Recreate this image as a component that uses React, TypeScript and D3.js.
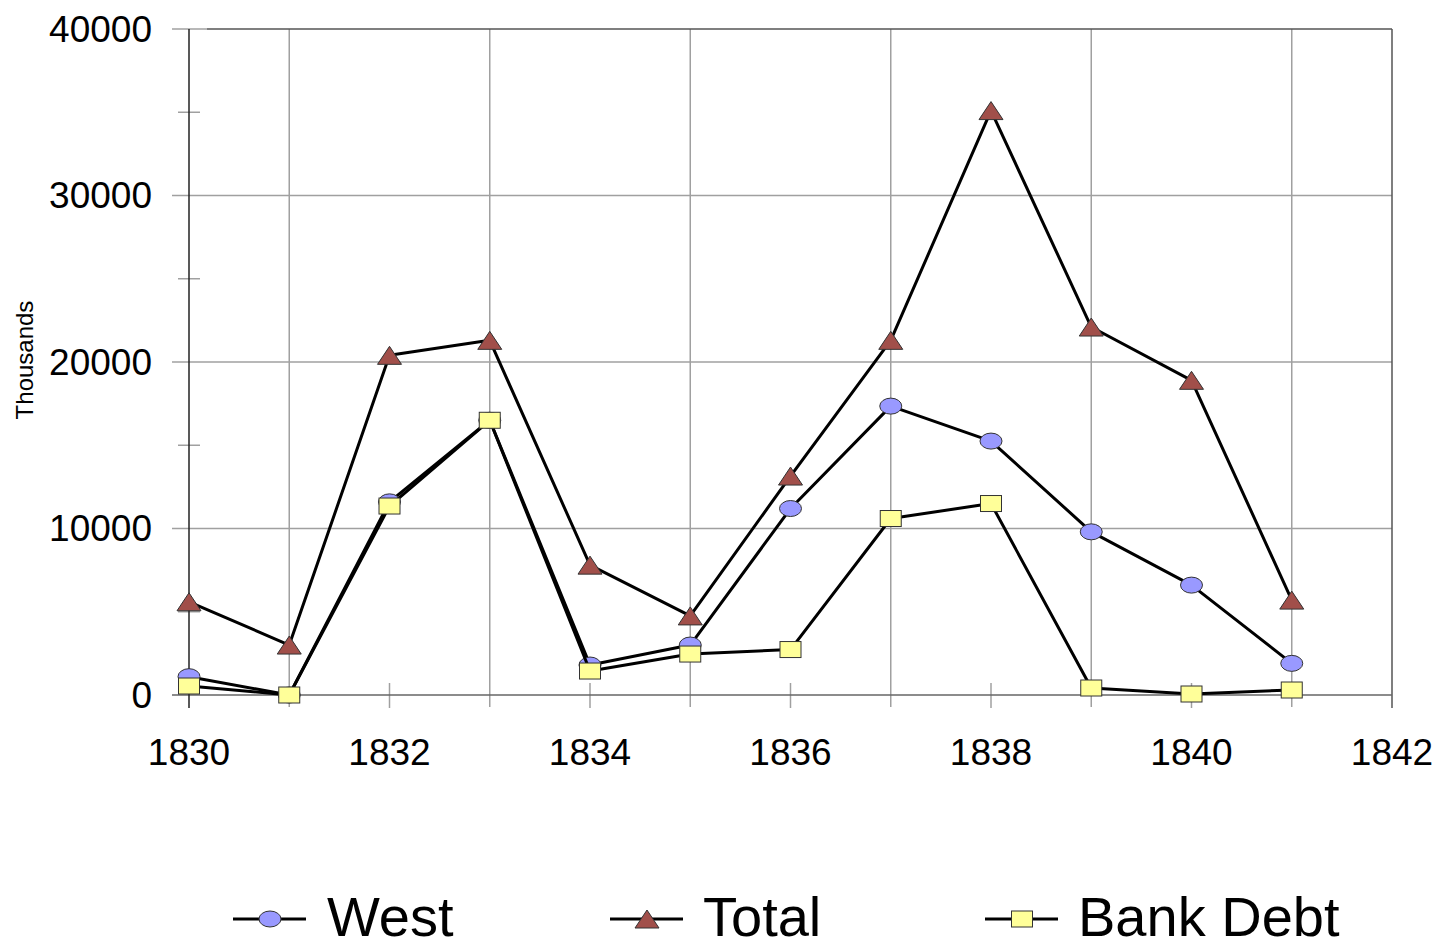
import React from "react";
import * as d3 from "d3";

const years = [1830, 1831, 1832, 1833, 1834, 1835, 1836, 1837, 1838, 1839, 1840, 1841];
const west = [1100, 0, 11600, 16500, 1800, 3000, 11200, 17350, 15250, 9800, 6600, 1900];
const total = [5600, 3000, 20400, 21300, 7800, 4750, 13150, 21300, 35100, 22100, 18900, 5700];
const bankDebt = [540, 0, 11350, 16500, 1440, 2460, 2730, 10600, 11500, 420, 60, 300];
const xTickLabels = [1830, 1832, 1834, 1836, 1838, 1840, 1842];
const yTickLabels = [0, 10000, 20000, 30000, 40000];
const seriesNames = ["West", "Total", "Bank Debt"];

const W = 1434;
const H = 949;
const FONT = "'Liberation Sans', Arial, sans-serif";

const x = d3.scaleLinear().domain([1830, 1842]).range([189, 1392]);
const y = d3.scaleLinear().domain([0, 40000]).range([695, 29]);

type Kind = "circle" | "triangle" | "square";

function Marker({ kind, cx, cy }: { kind: Kind; cx: number; cy: number }) {
  if (kind === "circle") {
    return <ellipse cx={cx} cy={cy} rx={11} ry={8} fill="#9999ff" stroke="#333" strokeWidth={1} />;
  }
  if (kind === "triangle") {
    const w = 24, h = 18;
    const pts = `${cx},${cy - h / 2} ${cx + w / 2},${cy + h / 2} ${cx - w / 2},${cy + h / 2}`;
    return <polygon points={pts} fill="#a14f4a" stroke="#333" strokeWidth={1} />;
  }
  return <rect x={cx - 10.5} y={cy - 8} width={21} height={16} fill="#ffff99" stroke="#333" strokeWidth={1} />;
}

export default function App() {
  const line = d3
    .line<number>()
    .x((_, i) => x(years[i]))
    .y((d) => y(d));

  const series: { name: string; data: number[]; kind: Kind }[] = [
    { name: seriesNames[0], data: west, kind: "circle" },
    { name: seriesNames[1], data: total, kind: "triangle" },
    { name: seriesNames[2], data: bankDebt, kind: "square" },
  ];

  const allYears = d3.range(1830, 1843);
  const minorY = [5000, 15000, 25000, 35000];

  const legendItems = [
    { name: seriesNames[0], kind: "circle" as Kind, x0: 233, tx: 327 },
    { name: seriesNames[1], kind: "triangle" as Kind, x0: 610, tx: 703 },
    { name: seriesNames[2], kind: "square" as Kind, x0: 985, tx: 1078 },
  ];

  return (
    <svg
      width={W}
      height={H}
      style={{ position: "absolute", left: 0, top: 0, background: "#fff" }}
      fontFamily={FONT}
    >
      <rect x={0} y={0} width={W} height={H} fill="#fff" />
      {[10000, 20000, 30000].map((v) => (
        <line key={v} x1={172} x2={x(1842)} y1={y(v)} y2={y(v)} stroke="#a0a0a0" strokeWidth={1.5} />
      ))}
      {allYears
        .filter((yr) => yr % 2 === 1)
        .map((yr) => (
          <line key={yr} x1={x(yr)} x2={x(yr)} y1={y(40000)} y2={707} stroke="#a0a0a0" strokeWidth={1.5} />
        ))}
      {allYears
        .filter((yr) => yr % 2 === 0 && yr !== 1830 && yr !== 1842)
        .map((yr) => (
          <line key={yr} x1={x(yr)} x2={x(yr)} y1={683} y2={708} stroke="#a0a0a0" strokeWidth={1.5} />
        ))}
      {minorY.map((v) => (
        <line key={v} x1={178} x2={200} y1={y(v)} y2={y(v)} stroke="#a0a0a0" strokeWidth={1.5} />
      ))}
      <line x1={172} x2={207} y1={y(40000)} y2={y(40000)} stroke="#a0a0a0" strokeWidth={1.5} />
      <line x1={207} x2={x(1842)} y1={y(40000)} y2={y(40000)} stroke="#555" strokeWidth={1.5} />
      <line x1={x(1842)} x2={x(1842)} y1={y(40000)} y2={708} stroke="#555" strokeWidth={1.5} />
      <line x1={172} x2={x(1842)} y1={y(0)} y2={y(0)} stroke="#666" strokeWidth={1.5} />
      <line x1={x(1830)} x2={x(1830)} y1={y(40000)} y2={708} stroke="#222" strokeWidth={1.5} />

      {yTickLabels.map((v) => (
        <text key={v} x={152} y={y(v)} dy="0.35em" textAnchor="end" fontSize={37} fill="#000">
          {v}
        </text>
      ))}
      {xTickLabels.map((v) => (
        <text key={v} x={x(v)} y={765} textAnchor="middle" fontSize={37} fill="#000">
          {v}
        </text>
      ))}
      <text transform={`translate(33,360) rotate(-90)`} textAnchor="middle" fontSize={24} fill="#000">
        Thousands
      </text>

      {series.map((s) => (
        <g key={s.name}>
          <path d={line(s.data) || ""} fill="none" stroke="#000" strokeWidth={3} strokeLinejoin="round" />
          {s.data.map((d, i) => (
            <Marker key={i} kind={s.kind} cx={x(years[i])} cy={y(d)} />
          ))}
        </g>
      ))}

      {legendItems.map((l) => (
        <g key={l.name}>
          <line x1={l.x0} x2={l.x0 + 73} y1={919} y2={919} stroke="#000" strokeWidth={3} />
          <Marker kind={l.kind} cx={l.x0 + 37} cy={919} />
          <text x={l.tx} y={936} fontSize={56} fill="#000">
            {l.name}
          </text>
        </g>
      ))}
    </svg>
  );
}
